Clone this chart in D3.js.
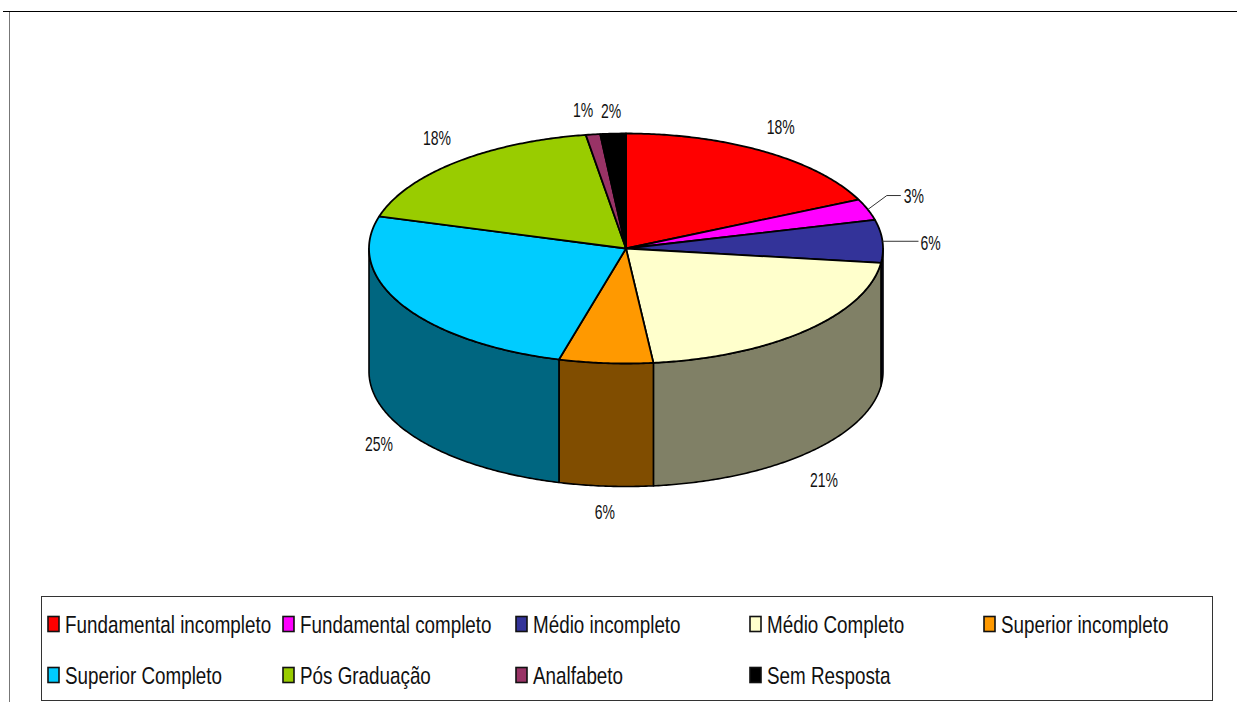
<!DOCTYPE html>
<html>
<head>
<meta charset="utf-8">
<script src="https://cdn.jsdelivr.net/npm/d3@7/dist/d3.min.js"></script>
<style>
html,body{margin:0;padding:0;background:#fff;overflow:hidden}
svg{display:block}
text{font-family:"Liberation Sans",Arial,sans-serif;fill:#111}
</style>
</head>
<body>
<svg id="chart" width="1237" height="702"></svg>
<script>
const categories = ["Fundamental incompleto","Fundamental completo","Médio incompleto","Médio Completo","Superior incompleto","Superior Completo","Pós Graduação","Analfabeto","Sem Resposta"];
const values = [18,3,6,21.3,5.9,25.3,18,0.9,1.6];
const colors = ["#FF0000","#FF00FF","#333399","#FFFFCC","#FF9900","#00CCFF","#99CC00","#993366","#000000"];

const layout = {cx:626, cy:248.5, rx:257, ry:115, depth:123};
const labelOffsets = [[17,-24],[46,-14],[48,2],[18,26],[-1,26],[-23,16],[-19,-24],[-10,-24],[-2,-23]];
const leaderPaths = {1:[[0,0],[19,-14],[33,-14]], 2:[[0,0],[36,0]]};
const legendCols = [48,283,516,750,984];
const legendRows = [624,675];

const svg = d3.select("#chart");
const x = d3.scaleLinear().domain([-1,1]).range([layout.cx-layout.rx, layout.cx+layout.rx]);
const y = d3.scaleLinear().domain([-1,1]).range([layout.cy-layout.ry, layout.cy+layout.ry]);
const line = d3.line();

const arcs = d3.pie().sort(null).value(d=>d)(values);
const pt = (t,dz=0)=>[x(Math.sin(t)), y(-Math.cos(t))+dz];
const arcPts = (a,b,dz=0)=>{
  const n = Math.max(2, Math.ceil((b-a)/0.01));
  return d3.range(n+1).map(i=>pt(a+(b-a)*i/n,dz));
};

// frame
svg.append("line").attr("x1",3).attr("x2",1237).attr("y1",11.5).attr("y2",11.5).attr("stroke","#000").attr("stroke-width",1.2);
svg.append("line").attr("x1",9.5).attr("x2",9.5).attr("y1",12).attr("y2",702).attr("stroke","#777").attr("stroke-width",1);

// sides
const g = svg.append("g");
arcs.forEach((d,i)=>{
  const a = Math.max(d.startAngle, Math.PI/2), b = Math.min(d.endAngle, 3*Math.PI/2);
  if (b<=a) return;
  const c = d3.rgb(colors[i]);
  const side = d3.rgb(c.r/2,c.g/2,c.b/2);
  const pts = arcPts(a,b,0).concat(arcPts(a,b,layout.depth).reverse());
  g.append("path").attr("d",line(pts)+"Z").attr("fill",side.formatHex())
   .attr("stroke","#000").attr("stroke-width",1.6).attr("stroke-linejoin","round");
});

// top
arcs.forEach((d,i)=>{
  const pts = [[layout.cx,layout.cy]].concat(arcPts(d.startAngle,d.endAngle));
  g.append("path").attr("d",line(pts)+"Z").attr("fill",colors[i])
   .attr("stroke","#000").attr("stroke-width",1.8).attr("stroke-linejoin","round");
});

// data labels
arcs.forEach((d,i)=>{
  const t=(d.startAngle+d.endAngle)/2;
  const front = Math.cos(t)<0 ;
  const p = pt(t, front?layout.depth:0);
  const lx=p[0]+labelOffsets[i][0], ly=p[1]+labelOffsets[i][1];
  svg.append("text").attr("transform",`translate(${lx},${ly+7}) scale(0.7,1)`)
    .attr("text-anchor","middle").attr("font-size",20)
    .text(Math.round(d.value)+"%");
  if(leaderPaths[i]){
    svg.append("path").attr("d",line(leaderPaths[i].map(q=>[p[0]+q[0],p[1]+q[1]])))
      .attr("fill","none").attr("stroke","#333").attr("stroke-width",1);
  }
});

// legend
svg.append("rect").attr("x",41.5).attr("y",596.5).attr("width",1171).attr("height",104)
  .attr("fill","#fff").attr("stroke","#333").attr("stroke-width",1);
categories.forEach((c,i)=>{
  const col=i%5,row=Math.floor(i/5);
  const lx=legendCols[col], ly=legendRows[row];
  svg.append("rect").attr("x",lx).attr("y",ly-7.5).attr("width",11).attr("height",15)
    .attr("fill",colors[i]).attr("stroke","#111").attr("stroke-width",1.6);
  svg.append("text").attr("transform",`translate(${lx+17},${ly+8.5}) scale(0.785,1)`)
    .attr("font-size",24).text(c);
});
</script>
</body>
</html>
